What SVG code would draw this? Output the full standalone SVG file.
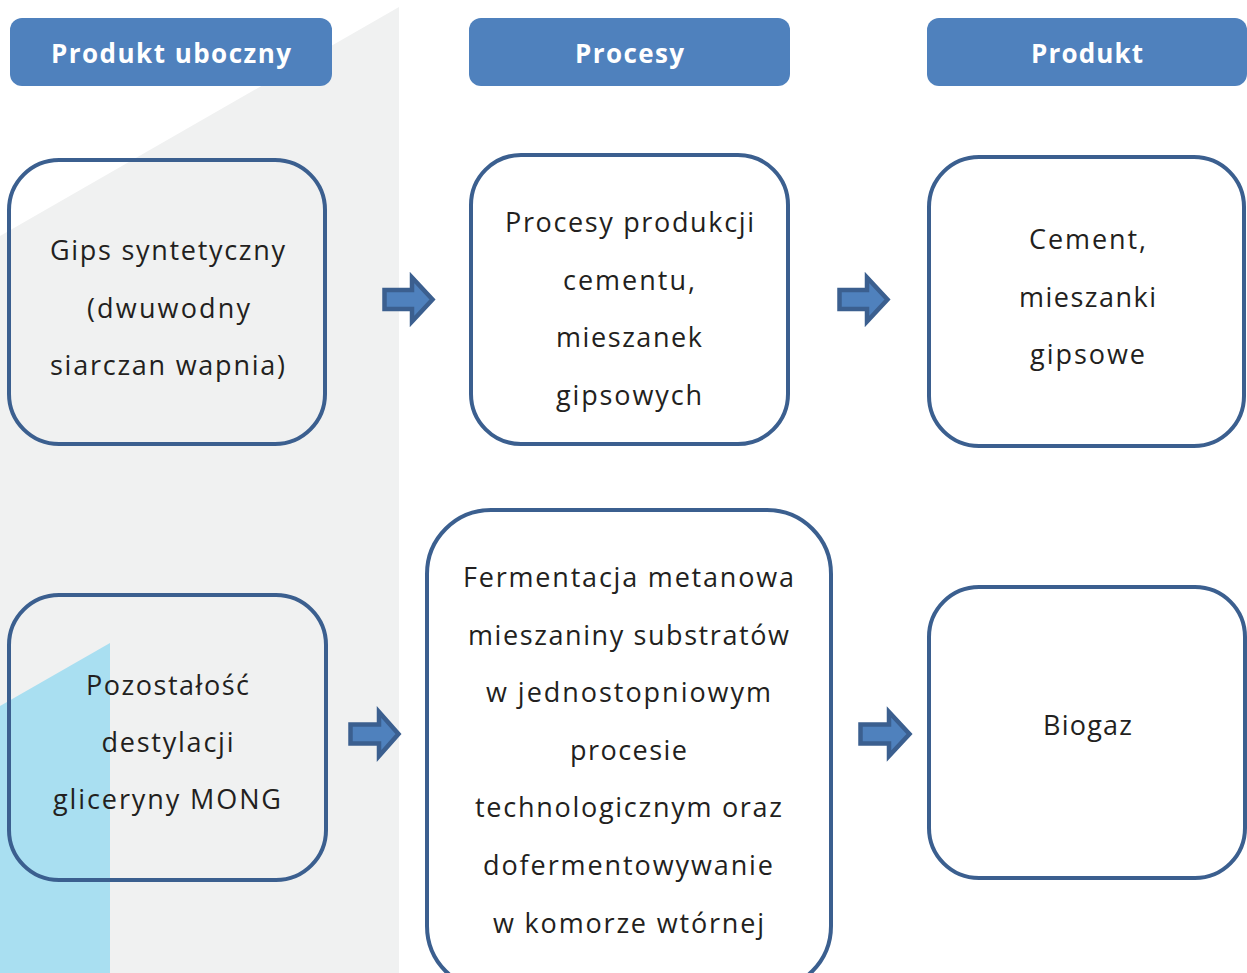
<svg xmlns="http://www.w3.org/2000/svg" width="1247" height="973" viewBox="0 0 1247 973">
<style>
.hdr{fill:#4f81bd;}
.ht{font-family:"Open Sans","Liberation Sans",sans-serif;font-weight:700;font-size:26px;fill:#ffffff;text-anchor:middle;}
.box{fill:none;stroke:#3b5f8f;stroke-width:4;}
.t{font-family:"Open Sans","Liberation Sans",sans-serif;font-size:27px;fill:#231f20;text-anchor:middle;}
.arr{fill:#4f81bd;stroke:#3b5f8f;stroke-width:4.5;stroke-linejoin:miter;}
</style>
<rect x="0" y="0" width="1247" height="973" fill="#ffffff"/>
<polygon points="0,236 399,7 399,973 0,973" fill="#f0f1f1"/>
<polygon points="0,706 110,643 110,973 0,973" fill="#a9dff1"/>

<g id="header-produkt-uboczny">
<rect class="hdr" x="10" y="18" width="322" height="68" rx="12"/>
<text class="ht" x="171" y="63" textLength="240" lengthAdjust="spacing">Produkt uboczny</text>
</g>
<g id="header-procesy">
<rect class="hdr" x="469" y="18" width="321" height="68" rx="12"/>
<text class="ht" x="629.5" y="63" textLength="109" lengthAdjust="spacing">Procesy</text>
</g>
<g id="header-produkt">
<rect class="hdr" x="927" y="18" width="320" height="68" rx="12"/>
<text class="ht" x="1087" y="63" textLength="112" lengthAdjust="spacing">Produkt</text>
</g>

<g id="node-gips">
<rect class="box" x="9" y="160" width="316" height="284" rx="50"/>
<text class="t" x="167.5" y="260" textLength="235" lengthAdjust="spacing">Gips syntetyczny</text>
<text class="t" x="168.5" y="318" textLength="163" lengthAdjust="spacing">(dwuwodny</text>
<text class="t" x="167.5" y="375" textLength="235" lengthAdjust="spacing">siarczan wapnia)</text>
</g>

<g id="node-procesy-cementu">
<rect class="box" x="471" y="155" width="317" height="289" rx="50"/>
<text class="t" x="629.5" y="232" textLength="249" lengthAdjust="spacing">Procesy produkcji</text>
<text class="t" x="629" y="289.5" textLength="132" lengthAdjust="spacing">cementu,</text>
<text class="t" x="629" y="347" textLength="146" lengthAdjust="spacing">mieszanek</text>
<text class="t" x="629" y="404.5" textLength="146" lengthAdjust="spacing">gipsowych</text>
</g>

<g id="node-cement">
<rect class="box" x="929" y="157" width="315" height="289" rx="50"/>
<text class="t" x="1087.5" y="249" textLength="117" lengthAdjust="spacing">Cement,</text>
<text class="t" x="1087.5" y="306.5" textLength="137" lengthAdjust="spacing">mieszanki</text>
<text class="t" x="1087.5" y="364" textLength="115" lengthAdjust="spacing">gipsowe</text>
</g>

<g id="node-pozostalosc">
<rect class="box" x="9" y="595" width="317" height="285" rx="50"/>
<text class="t" x="167.5" y="695" textLength="163" lengthAdjust="spacing">Pozostałość</text>
<text class="t" x="167.5" y="752" textLength="132" lengthAdjust="spacing">destylacji</text>
<text class="t" x="167" y="809" textLength="228" lengthAdjust="spacing">gliceryny MONG</text>
</g>

<g id="node-fermentacja">
<rect class="box" x="427" y="510" width="404" height="480" rx="64"/>
<text class="t" x="628.5" y="587" textLength="331" lengthAdjust="spacing">Fermentacja metanowa</text>
<text class="t" x="628.5" y="645" textLength="321" lengthAdjust="spacing">mieszaniny substratów</text>
<text class="t" x="628.5" y="702" textLength="285" lengthAdjust="spacing">w jednostopniowym</text>
<text class="t" x="628.5" y="760" textLength="117" lengthAdjust="spacing">procesie</text>
<text class="t" x="628.5" y="817" textLength="307" lengthAdjust="spacing">technologicznym oraz</text>
<text class="t" x="628" y="875" textLength="290" lengthAdjust="spacing">dofermentowywanie</text>
<text class="t" x="628.5" y="933" textLength="271" lengthAdjust="spacing">w komorze wtórnej</text>
</g>

<g id="node-biogaz">
<rect class="box" x="929" y="587" width="316" height="291" rx="50"/>
<text class="t" x="1087.5" y="734.5" textLength="89" lengthAdjust="spacing">Biogaz</text>
</g>

<g id="connectors">
<polygon class="arr" points="384.5,290 412,290 412,277.5 432.5,299.5 412,321.5 412,309 384.5,309"/>
<polygon class="arr" points="839.5,290 867,290 867,277.5 887.5,299.5 867,321.5 867,309 839.5,309"/>
<polygon class="arr" points="350.5,724.5 379,724.5 379,712 398.5,734 379,756 379,743.5 350.5,743.5"/>
<polygon class="arr" points="860.5,724.5 889,724.5 889,712 909.5,734 889,756 889,743.5 860.5,743.5"/>
</g>
</svg>
